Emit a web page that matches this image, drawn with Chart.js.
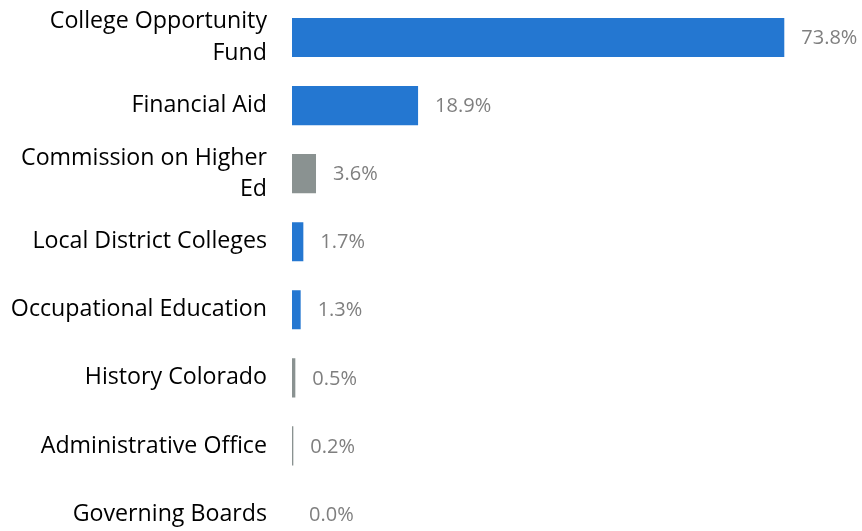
<!DOCTYPE html>
<html>
<head>
<meta charset="utf-8">
<script src="https://cdn.jsdelivr.net/npm/chart.js@4/dist/chart.umd.min.js"></script>
<style>
  html, body { margin: 0; padding: 0; background: #ffffff; overflow: hidden; }
  canvas { display: block; }
</style>
</head>
<body>
<canvas id="chart" width="862" height="548"></canvas>
<script>
// Share of budget by agency division (percent)
const categories = [
  ['College Opportunity', 'Fund'],
  'Financial Aid',
  ['Commission on Higher', 'Ed'],
  'Local District Colleges',
  'Occupational Education',
  'History Colorado',
  'Administrative Office',
  'Governing Boards'
];
const shares = [73.8, 18.9, 3.6, 1.7, 1.3, 0.5, 0.2, 0.0];
const shareLabels = ['73.8%', '18.9%', '3.6%', '1.7%', '1.3%', '0.5%', '0.2%', '0.0%'];
const barGroups = ['blue', 'blue', 'gray', 'blue', 'blue', 'gray', 'gray', 'gray'];

const palette = { blue: '#2477D1', gray: '#8A9291' };
const FONT = '"Open Sans", "Liberation Sans", sans-serif';

// Writes each value just past the end of its bar
const valueLabels = {
  id: 'valueLabels',
  afterDatasetsDraw(chart) {
    const { ctx } = chart;
    const meta = chart.getDatasetMeta(0);
    const xScale = chart.scales.x;
    ctx.save();
    ctx.font = '20px ' + FONT;
    ctx.fillStyle = '#7F7F7F';
    ctx.textAlign = 'left';
    ctx.textBaseline = 'middle';
    meta.data.forEach((bar, i) => {
      const x = xScale.getPixelForValue(shares[i]) + 17;
      ctx.fillText(shareLabels[i], x, bar.y + 1);
    });
    ctx.restore();
  }
};

new Chart(document.getElementById('chart'), {
  type: 'bar',
  data: {
    labels: categories,
    datasets: [{
      data: shares,
      backgroundColor: barGroups.map(g => palette[g]),
      borderWidth: 0,
      categoryPercentage: 1,
      barPercentage: 0.574
    }]
  },
  plugins: [valueLabels],
  options: {
    indexAxis: 'y',
    responsive: false,
    animation: false,
    layout: { padding: { top: 3.5, right: 3, bottom: 0, left: 0 } },
    plugins: { legend: { display: false }, tooltip: { enabled: false } },
    scales: {
      x: {
        display: false,
        min: 0,
        max: 85
      },
      y: {
        grid: { display: false, drawTicks: false },
        border: { display: false },
        ticks: {
          color: '#000000',
          padding: 25,
          font: { family: FONT, size: 23.2, lineHeight: 1.35 }
        },
        afterFit(scale) {
          scale.width = 292;
          scale.paddingTop = 0;
          scale.paddingBottom = 0;
        }
      }
    }
  }
});
</script>
</body>
</html>
